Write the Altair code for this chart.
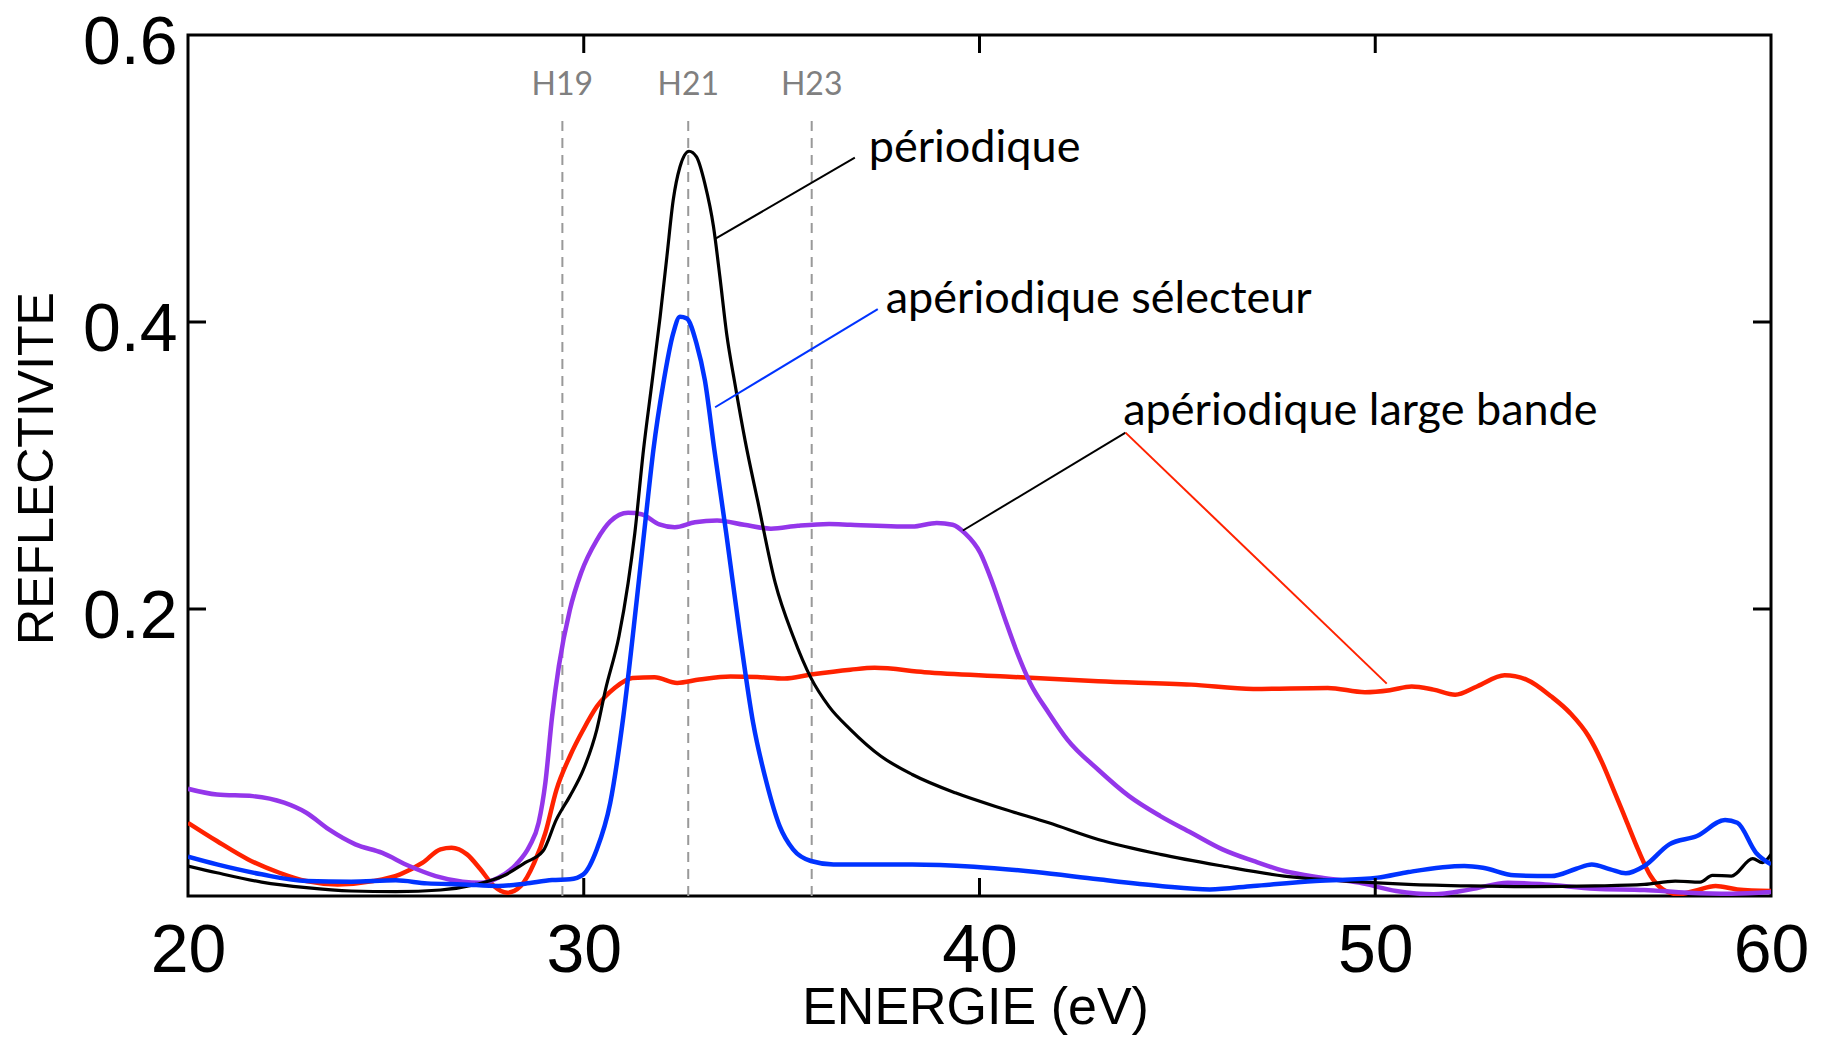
import altair as alt
import pandas as pd

# ---------------- data ----------------
purple_E = [20.0, 20.73, 21.64, 22.43, 22.99, 23.56, 24.23, 24.91, 25.59, 26.26, 26.94, 27.39, 27.84,
            28.29, 28.63, 28.86, 29.03, 29.2, 29.37, 29.65, 29.93, 30.33, 30.67, 31.12, 31.46, 31.91,
            32.3, 32.81, 33.37, 34.05, 34.73, 35.41, 36.2, 36.74, 38.3, 38.92, 39.32, 39.63, 40.02,
            40.33, 40.65, 40.96, 41.28, 41.75, 42.22, 43.0, 43.78, 44.57, 45.35, 46.14, 46.92, 47.7,
            48.65, 49.59, 50.53, 51.47, 52.41, 53.35, 54.29, 55.55, 56.8, 57.9, 59.0, 60.0]
purple_R = [0.0747, 0.0707, 0.0696, 0.065, 0.058, 0.0464, 0.036, 0.030, 0.0209, 0.0139, 0.010, 0.0093,
            0.0128, 0.022, 0.0348, 0.051, 0.0789, 0.125, 0.160, 0.1995, 0.225, 0.248, 0.261, 0.267,
            0.266, 0.259, 0.257, 0.2605, 0.2617, 0.2587, 0.256, 0.258, 0.2593, 0.2587, 0.2575, 0.260,
            0.2587, 0.2528, 0.239, 0.218, 0.1925, 0.169, 0.1485, 0.1276, 0.109, 0.088, 0.0696, 0.0557,
            0.0441, 0.0325, 0.0244, 0.0174, 0.0128, 0.0093, 0.0035, 0.0012, 0.0046, 0.0093, 0.0081,
            0.0051, 0.0042, 0.0023, 0.0016, 0.0028]

red_E = [20.0, 20.73, 21.52, 22.31, 22.99, 23.78, 24.68, 25.36, 25.93, 26.38, 26.66, 27.05, 27.39,
         27.73, 28.07, 28.41, 28.75, 29.03, 29.31, 29.65, 29.99, 30.33, 30.78, 31.23, 31.79, 32.36,
         32.92, 33.71, 34.39, 35.07, 35.74, 36.74, 37.35, 38.61, 40.65, 43.0, 45.35, 46.92, 48.8,
         49.74, 50.37, 50.92, 51.47, 52.02, 52.57, 53.27, 53.82, 54.45, 54.92, 55.39, 55.7, 56.02,
         56.33, 56.64, 56.96, 57.27, 57.66, 58.06, 58.6, 59.15, 60.0]
red_R = [0.051, 0.0383, 0.0255, 0.0162, 0.0104, 0.0081, 0.0104, 0.0151, 0.0232, 0.0325, 0.0336, 0.029,
         0.0186, 0.007, 0.0023, 0.007, 0.0232, 0.044, 0.074, 0.0974, 0.116, 0.132, 0.145, 0.152,
         0.1524, 0.1485, 0.1508, 0.153, 0.1526, 0.1515, 0.1543, 0.1577, 0.159, 0.156, 0.153, 0.1496,
         0.1473, 0.1443, 0.145, 0.142, 0.1434, 0.146, 0.1438, 0.1403, 0.146, 0.1538, 0.1508, 0.139,
         0.1276, 0.1113, 0.095, 0.0742, 0.0534, 0.0325, 0.0139, 0.0046, 0.0012, 0.0035, 0.007,
         0.0046, 0.0035]

black_E = [20.0, 20.73, 21.86, 22.99, 24.12, 25.25, 26.38, 27.28, 27.96, 28.52, 28.97, 29.31, 29.65,
           29.99, 30.33, 30.55, 30.89, 31.12, 31.29, 31.51, 31.72, 31.93, 32.1, 32.26, 32.43, 32.66,
           32.85, 33.06, 33.28, 33.44, 33.61, 33.82, 34.08, 34.39, 34.84, 35.29, 35.74, 36.2, 36.74,
           37.51, 38.3, 39.39, 40.65, 41.75, 43.0, 44.57, 46.14, 47.7, 49.27, 50.84, 52.41, 53.98,
           55.55, 56.8, 57.58, 58.21, 58.52, 59.0, 59.54, 59.78, 60.0]
black_R = [0.0209, 0.0162, 0.0097, 0.0058, 0.0035, 0.003, 0.0042, 0.0081, 0.0139, 0.0232, 0.0313,
           0.0534, 0.0696, 0.088, 0.116, 0.1438, 0.181, 0.218, 0.2528, 0.311, 0.357, 0.4036, 0.4454,
           0.4848, 0.508, 0.519, 0.515, 0.4964, 0.4662, 0.4315, 0.392, 0.357, 0.317, 0.276, 0.218,
           0.181, 0.152, 0.132, 0.116, 0.0974, 0.0847, 0.0719, 0.0603, 0.051, 0.0394, 0.029, 0.0209,
           0.0139, 0.0104, 0.0081, 0.007, 0.0065, 0.007, 0.0081, 0.0104, 0.0097, 0.0144, 0.0139,
           0.026, 0.0232, 0.029]

blue_E = [20.0, 20.73, 21.86, 22.99, 24.12, 25.25, 26.04, 26.94, 27.84, 28.52, 29.2, 29.65, 29.99,
          30.33, 30.67, 31.0, 31.34, 31.57, 31.76, 32.01, 32.26, 32.43, 32.6, 32.85, 33.06, 33.3,
          33.6, 33.94, 34.28, 34.62, 34.95, 35.29, 35.74, 36.31, 38.3, 39.86, 41.43, 43.0, 44.57,
          45.82, 46.92, 48.49, 50.06, 50.84, 52.25, 52.72, 53.51, 54.45, 55.08, 55.47, 55.94, 56.33,
          56.8, 57.43, 58.13, 58.84, 59.15, 59.62, 60.0]
blue_R = [0.0274, 0.022, 0.0151, 0.0104, 0.010, 0.0109, 0.0088, 0.0081, 0.007, 0.0086, 0.0111, 0.0116,
          0.0151, 0.0325, 0.065, 0.125, 0.2064, 0.2644, 0.311, 0.357, 0.392, 0.4036, 0.4025, 0.385,
          0.3595, 0.311, 0.2528, 0.1833, 0.1206, 0.0789, 0.0487, 0.0325, 0.0244, 0.022, 0.022, 0.0204,
          0.0167, 0.0116, 0.007, 0.0046, 0.007, 0.0104, 0.0128, 0.0167, 0.0209, 0.0197, 0.0144,
          0.0139, 0.019, 0.022, 0.0186, 0.0158, 0.0209, 0.036, 0.0418, 0.0529, 0.051, 0.0302, 0.022]

# harmonics (dashed markers)
harm_labels = ["H19", "H21", "H23"]
harm_E = [29.46, 32.64, 35.76]
harm_top = 0.543
harm_label_R = 0.558

# annotations
ann_text = ["périodique", "apériodique sélecteur", "apériodique large bande"]
ann_E = [37.2, 37.63, 43.63]
ann_R = [0.5113, 0.4062, 0.3283]

# leader lines: start (E, R) -> end (E2, R2)
lead_E = [36.85, 37.43, 43.69, 43.69]
lead_R = [0.5145, 0.409, 0.3229, 0.3229]
lead_E2 = [33.34, 33.32, 39.58, 50.29]
lead_R2 = [0.4582, 0.3406, 0.2547, 0.148]
lead_color = ["black", "blue", "black", "red"]

x_ticks = [20, 30, 40, 50, 60]
x_inner_ticks = [30, 40, 50]
y_ticks = [0.2, 0.4, 0.6]
y_inner_ticks = [0.2, 0.4]

PURPLE = "#9436EA"
RED = "#FF2200"
BLUE = "#0033FF"
BLACK = "#000000"

# ---------------- chart ----------------
W, H = 1583, 861
TICK = 18

xs = alt.Scale(domain=[20, 60], nice=False, zero=False)
ys = alt.Scale(domain=[0, 0.6], nice=False, zero=False)

xaxis = alt.Axis(values=x_ticks, format="d", labelFont="Liberation Sans", labelFontSize=68,
                 labelColor="black", labelBaseline="alphabetic", labelPadding=75, labelFlush=False,
                 labelOverlap=False, ticks=False, tickSize=0, domain=False, grid=False,
                 title="ENERGIE (eV)", titleFont="Liberation Sans", titleFontSize=52,
                 titleFontWeight="normal", titleColor="black", titleBaseline="alphabetic",
                 titleAlign="center", titleX=787, titleY=127)
yaxis = alt.Axis(values=y_ticks, format=".1f", labelFont="Liberation Sans", labelFontSize=68,
                 labelColor="black", labelBaseline="alphabetic", labelOffset=28, labelPadding=11,
                 labelAlign="right", labelOverlap=False, labelFlush=False, ticks=False, tickSize=0,
                 domain=False, grid=False, title="REFLECTIVITE", titleFont="Liberation Sans",
                 titleFontSize=50, titleFontWeight="normal", titleColor="black", titleAngle=270,
                 titleAlign="center", titleBaseline="alphabetic", titleX=-136, titleY=433)

X = alt.X("E:Q", scale=xs, axis=xaxis)
Y = alt.Y("R:Q", scale=ys, axis=yaxis)


def curve(E, R, color, width):
    df = pd.DataFrame({"E": E, "R": R})
    return alt.Chart(df).mark_line(color=color, strokeWidth=width, interpolate="monotone",
                                   clip=True, strokeJoin="round").encode(x=X, y=Y)


harm_df = pd.DataFrame({"E": harm_E, "R": [0.0] * 3, "R2": [harm_top] * 3,
                        "label": harm_labels, "RL": [harm_label_R] * 3})
dashes = alt.Chart(harm_df).mark_rule(color="#999999", strokeWidth=2, strokeDash=[10, 7]).encode(
    x=X, y=Y, y2="R2:Q")
harm_text = alt.Chart(harm_df).mark_text(font="Lato", fontSize=32, color="#808080",
                                         align="center", baseline="alphabetic").encode(
    x=X, y=alt.Y("RL:Q", scale=ys, axis=yaxis), text="label:N")

lead_df = pd.DataFrame({"E": lead_E, "R": lead_R, "E2": lead_E2, "R2": lead_R2, "c": lead_color})
leaders = alt.Chart(lead_df).mark_rule(strokeWidth=2).encode(
    x=X, y=Y, x2="E2:Q", y2="R2:Q",
    color=alt.Color("c:N", scale=alt.Scale(domain=["black", "blue", "red"],
                                           range=[BLACK, BLUE, RED]), legend=None))

ann_df = pd.DataFrame({"E": ann_E, "R": ann_R, "t": ann_text})
ann = alt.Chart(ann_df).mark_text(font="Lato", fontSize=45, color="black", align="left",
                                  baseline="alphabetic").encode(x=X, y=Y, text="t:N")

xt_df = pd.DataFrame({"E": x_inner_ticks})
xt_bottom = alt.Chart(xt_df).mark_rule(color="black", strokeWidth=3).encode(
    x=X, y=alt.value(H), y2=alt.value(H - TICK))
xt_top = alt.Chart(xt_df).mark_rule(color="black", strokeWidth=3).encode(
    x=X, y=alt.value(0), y2=alt.value(TICK))
yt_df = pd.DataFrame({"R": y_inner_ticks})
yt_left = alt.Chart(yt_df).mark_rule(color="black", strokeWidth=3).encode(
    y=Y, x=alt.value(0), x2=alt.value(TICK))
yt_right = alt.Chart(yt_df).mark_rule(color="black", strokeWidth=3).encode(
    y=Y, x=alt.value(W), x2=alt.value(W - TICK))

chart = alt.layer(
    dashes,
    curve(red_E, red_R, RED, 4.5),
    curve(purple_E, purple_R, PURPLE, 4.5),
    curve(black_E, black_R, BLACK, 3.2),
    curve(blue_E, blue_R, BLUE, 4.5),
    leaders, ann, harm_text,
    xt_bottom, xt_top, yt_left, yt_right,
).properties(
    width=W, height=H,
    background="white",
    autosize=alt.AutoSizeParams(type="none"),
    padding={"left": 180, "top": 27, "right": 40, "bottom": 139},
).configure_view(
    stroke="black", strokeWidth=3
)

chart.save("out.html", embed_options={"renderer": "svg", "actions": False})
